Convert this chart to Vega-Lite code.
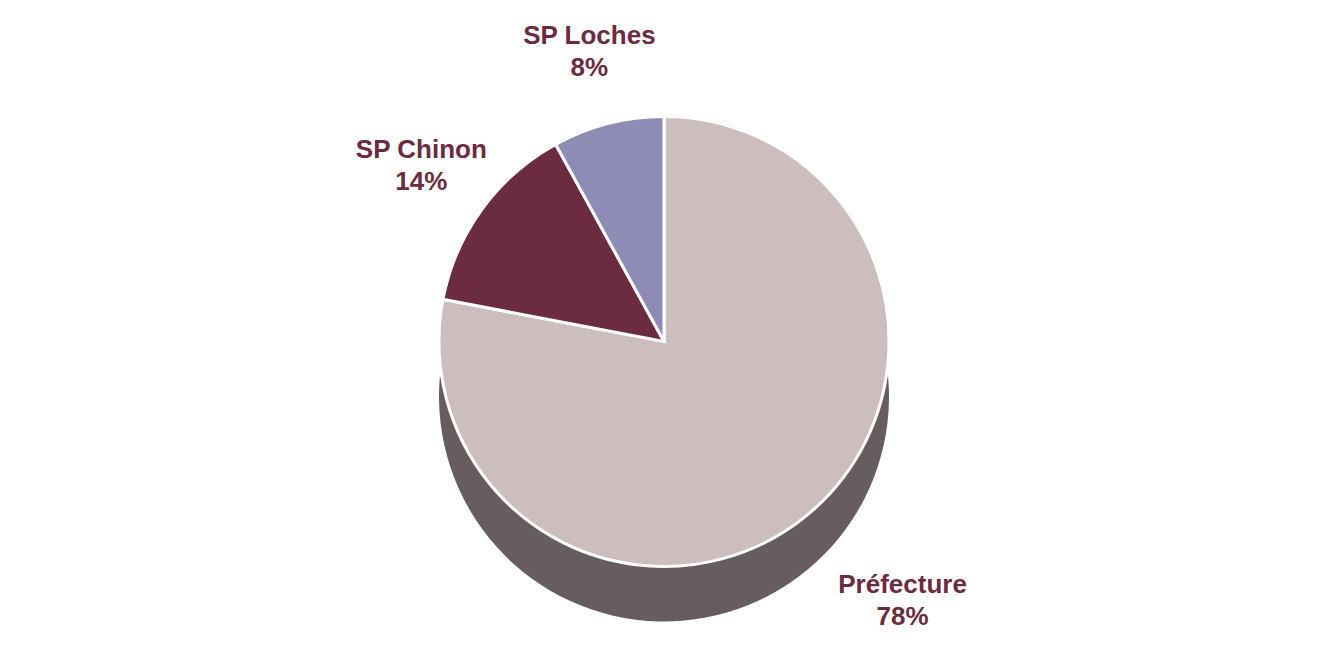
{
  "$schema": "https://vega.github.io/schema/vega-lite/v6.json",
  "width": 1328,
  "height": 661,
  "autosize": {"type": "fit", "contains": "padding"},
  "padding": 0,
  "background": "white",
  "config": {"view": {"stroke": null}},
  "data": {"values": [
    {"name": "Préfecture", "pct": "78%", "value": 78, "rank": 1},
    {"name": "SP Chinon", "pct": "14%", "value": 14, "rank": 2},
    {"name": "SP Loches", "pct": "8%", "value": 8, "rank": 3}
  ]},
  "encoding": {
    "theta": {"field": "value", "type": "quantitative", "stack": true},
    "order": {"field": "rank", "type": "quantitative"}
  },
  "layer": [
    {
      "mark": {"type": "arc", "outerRadius": 225, "yOffset": 55},
      "encoding": {
        "color": {"field": "name", "type": "nominal", "legend": null,
          "scale": {"domain": ["Préfecture", "SP Chinon", "SP Loches"], "range": ["#675D5E", "#3A1822", "#454760"]}}
      }
    },
    {
      "mark": {"type": "arc", "outerRadius": 225, "stroke": "white", "strokeWidth": 3},
      "encoding": {
        "color": {"field": "name", "type": "nominal", "legend": null,
          "scale": {"domain": ["Préfecture", "SP Chinon", "SP Loches"], "range": ["#CBBEBD", "#6B2B40", "#8E8CB5"]}}
      }
    },
    {
      "mark": {"type": "text", "radius": 300, "dy": -15, "font": "Liberation Sans", "fontSize": 26, "fontWeight": "bold", "color": "#6B2B40"},
      "encoding": {
        "text": {"condition": {"test": "datum.name !== 'Préfecture'", "field": "name"}, "value": ""}
      }
    },
    {
      "mark": {"type": "text", "radius": 300, "dy": 17, "font": "Liberation Sans", "fontSize": 26, "fontWeight": "bold", "color": "#6B2B40"},
      "encoding": {
        "text": {"condition": {"test": "datum.name !== 'Préfecture'", "field": "pct"}, "value": ""}
      }
    },
    {
      "mark": {"type": "text", "radius": 335, "dx": 25, "dy": -15, "font": "Liberation Sans", "fontSize": 26, "fontWeight": "bold", "color": "#6B2B40"},
      "encoding": {
        "text": {"condition": {"test": "datum.name === 'Préfecture'", "field": "name"}, "value": ""}
      }
    },
    {
      "mark": {"type": "text", "radius": 335, "dx": 25, "dy": 17, "font": "Liberation Sans", "fontSize": 26, "fontWeight": "bold", "color": "#6B2B40"},
      "encoding": {
        "text": {"condition": {"test": "datum.name === 'Préfecture'", "field": "pct"}, "value": ""}
      }
    }
  ],
  "resolve": {"scale": {"color": "independent"}}
}
